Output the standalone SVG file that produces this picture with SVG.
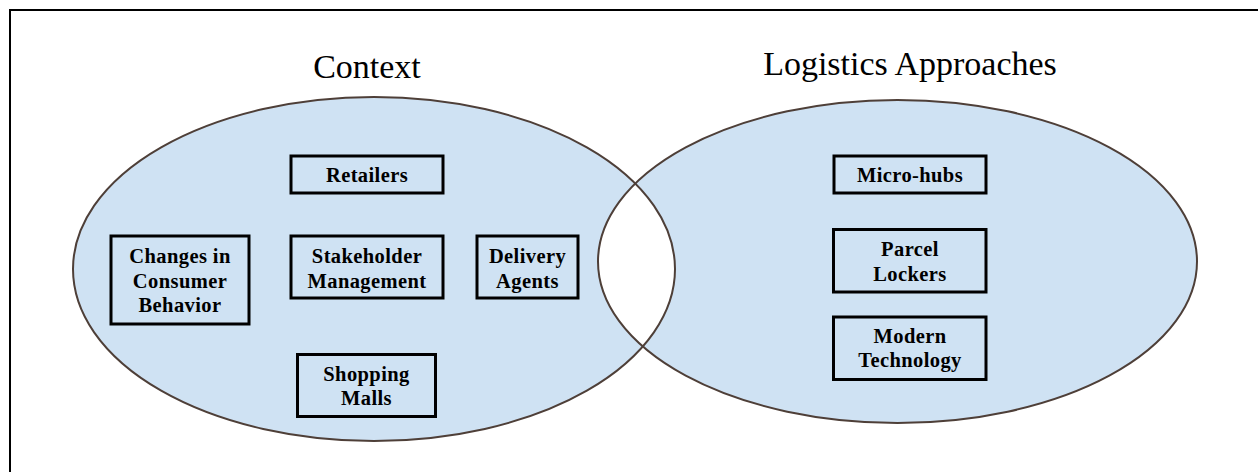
<svg xmlns="http://www.w3.org/2000/svg" width="1258" height="472" viewBox="0 0 1258 472">
<style>
.el{fill:#cfe2f3}
.ol{fill:none;stroke:#4e3f38;stroke-width:2}
.box{fill:none;stroke:#000;stroke-width:3}
.t{font-family:"Liberation Serif","Times New Roman",serif;font-weight:bold;font-size:20.5px;letter-spacing:0.4px;fill:#000;text-anchor:middle}
.h{font-family:"Liberation Serif","Times New Roman",serif;font-size:34px;fill:#000;text-anchor:middle}
</style>
<defs>
<clipPath id="cl"><ellipse cx="374" cy="269" rx="301" ry="172"/></clipPath>
</defs>
<rect x="0" y="0" width="1258" height="472" fill="#fff"/>
<path d="M10 472 V10 H1258" fill="none" stroke="#000" stroke-width="2"/>
<g id="sets">
<ellipse class="el" cx="374" cy="269" rx="301" ry="172"/>
<ellipse class="el" cx="897.5" cy="261.5" rx="299.5" ry="161.5"/>
<ellipse cx="897.5" cy="261.5" rx="299.5" ry="161.5" fill="#fff" clip-path="url(#cl)"/>
<ellipse class="ol" cx="374" cy="269" rx="301" ry="172"/>
<ellipse class="ol" cx="897.5" cy="261.5" rx="299.5" ry="161.5"/>
<text class="h" x="367" y="78">Context</text>
<text class="h" x="910" y="75">Logistics Approaches</text>
</g>
<g id="retailers"><rect class="box" x="291" y="156" width="152" height="37"/><text class="t" x="367" y="182">Retailers</text></g>
<g id="changes"><rect class="box" x="111" y="236" width="138" height="88"/><text class="t" x="180" y="262.5">Changes in</text><text class="t" x="180" y="287.5">Consumer</text><text class="t" x="180" y="312">Behavior</text></g>
<g id="stakeholder"><rect class="box" x="291" y="236" width="152" height="62"/><text class="t" x="367" y="262.5">Stakeholder</text><text class="t" x="367" y="287.5">Management</text></g>
<g id="delivery"><rect class="box" x="477" y="236" width="101" height="62"/><text class="t" x="527.5" y="262.5">Delivery</text><text class="t" x="527.5" y="287.5">Agents</text></g>
<g id="shopping"><rect class="box" x="297.5" y="354.5" width="138" height="62"/><text class="t" x="366.5" y="380.5">Shopping</text><text class="t" x="366.5" y="405">Malls</text></g>
<g id="microhubs"><rect class="box" x="834" y="156" width="152" height="37"/><text class="t" x="910" y="182">Micro-hubs</text></g>
<g id="parcel"><rect class="box" x="833.5" y="229.5" width="152.5" height="62.5"/><text class="t" x="910" y="256">Parcel</text><text class="t" x="910" y="280.5">Lockers</text></g>
<g id="modern"><rect class="box" x="833.5" y="317" width="152.5" height="62.5"/><text class="t" x="910" y="342.5">Modern</text><text class="t" x="910" y="367">Technology</text></g>
<g id="connectors"></g>
</svg>
